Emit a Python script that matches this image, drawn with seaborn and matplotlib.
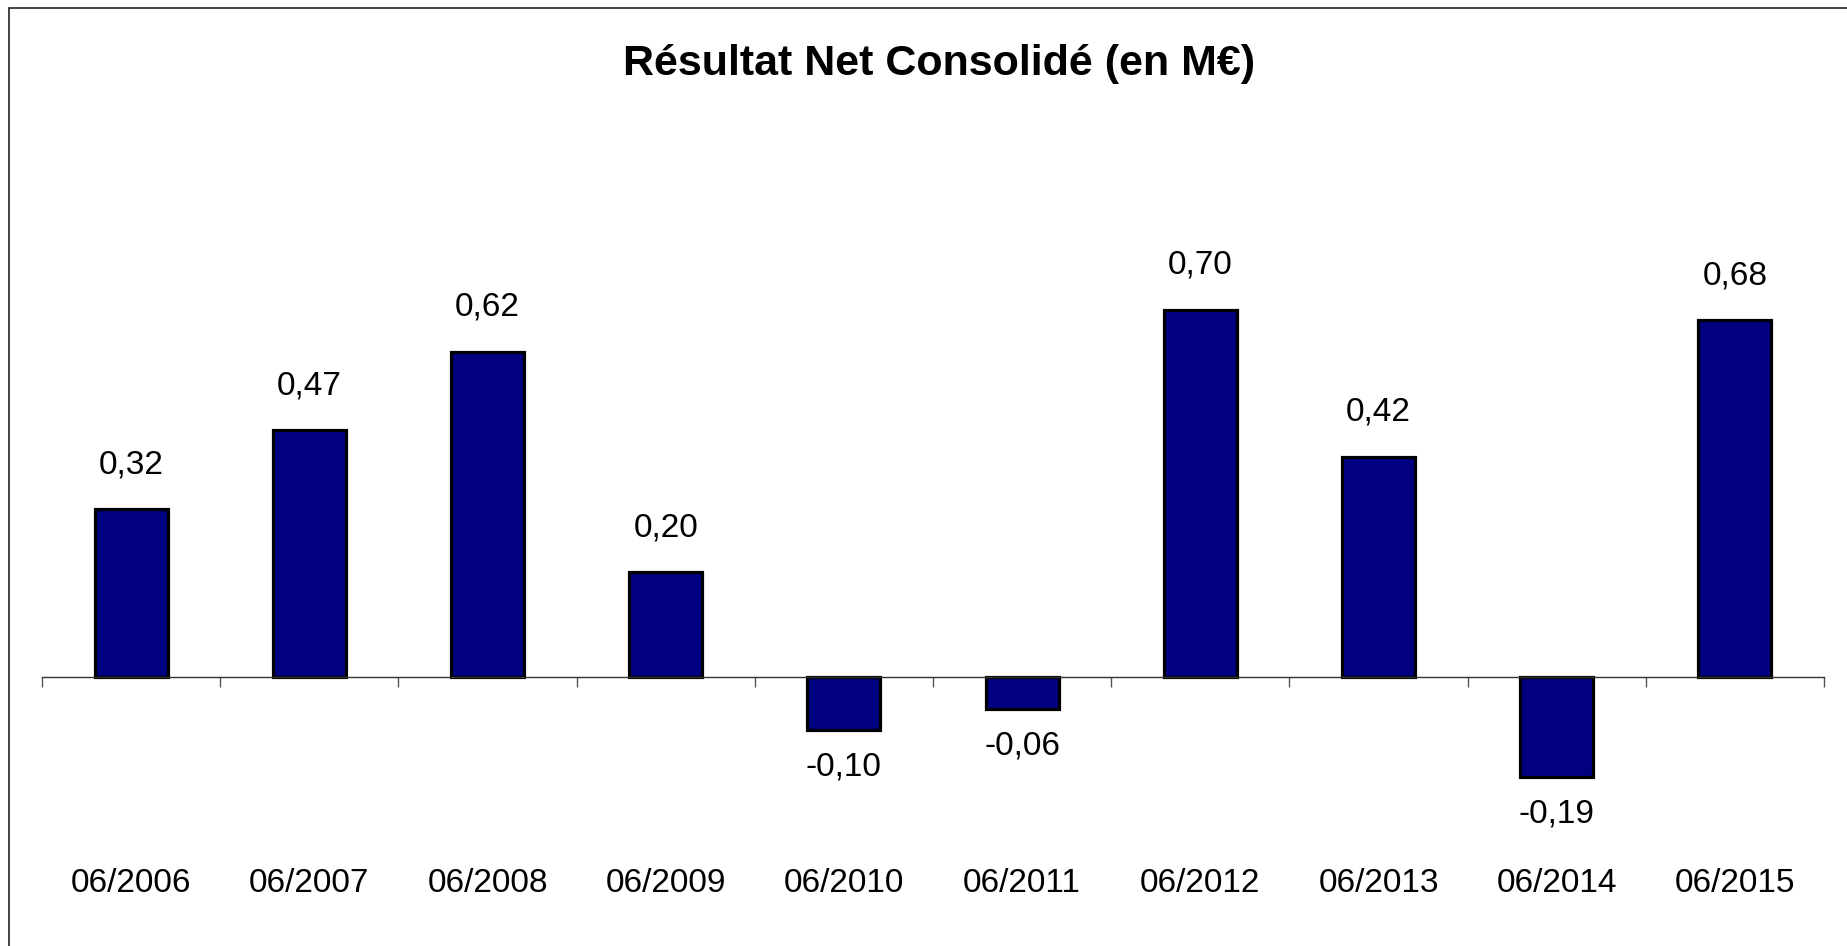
import numpy as np
import pandas as pd
import seaborn as sns
import matplotlib.pyplot as plt
from matplotlib.patches import Rectangle
from matplotlib.ticker import FixedLocator

periods = ['06/2006', '06/2007', '06/2008', '06/2009', '06/2010',
           '06/2011', '06/2012', '06/2013', '06/2014', '06/2015']
resultat = [0.32, 0.47, 0.62, 0.20, -0.10, -0.06, 0.70, 0.42, -0.19, 0.68]
labels = ['0,32', '0,47', '0,62', '0,20', '-0,10', '-0,06', '0,70', '0,42', '-0,19', '0,68']

df = pd.DataFrame({'periode': periods, 'resultat': resultat})

sns.set_style('white')
plt.rcParams['font.family'] = ['Liberation Sans', 'DejaVu Sans']
plt.rcParams['text.color'] = 'black'

fig = plt.figure(figsize=(18.47, 9.46), dpi=100)
# axes: x 42..1824 px, y 150..800 px
ax = fig.add_axes([42 / 1847, 1 - 800 / 946, 1782 / 1847, 650 / 946])

sns.barplot(data=df, x='periode', y='resultat', color='#000080', saturation=1,
            edgecolor='black', linewidth=2.3, width=0.41, ax=ax)

ax.set_xlim(-0.5, len(periods) - 0.5)
ax.set_ylim(-0.234, 1.004)

# value labels above / below the bars
for i, (v, lab) in enumerate(zip(resultat, labels)):
    off = 32 if v >= 0 else -27
    ax.annotate(lab, (i, v), xytext=(0, off), textcoords='offset points',
                ha='center', va='center', fontsize=24, color='black')

# category axis sitting at zero
for s in ['left', 'top', 'right']:
    ax.spines[s].set_visible(False)
ax.spines['bottom'].set_position(('data', 0))
ax.spines['bottom'].set_color('#333333')
ax.spines['bottom'].set_linewidth(1)
ax.set_yticks([])
ax.set_xlabel('')
ax.set_ylabel('')
ax.xaxis.set_minor_locator(FixedLocator(np.arange(-0.5, len(periods), 1)))
ax.tick_params(axis='x', which='major', length=0, pad=137.5, labelsize=24, labelcolor='black')
ax.tick_params(axis='x', which='minor', length=7, width=1, color='#555555', direction='out', bottom=True)

fig.text(939 / 1847, 1 - 75 / 946, 'Résultat Net Consolidé (en M€)',
         ha='center', va='baseline', fontsize=31, fontweight='bold', color='black')

# chart frame (only left and top edges visible)
fig.patches.append(Rectangle((9 / 1847, -0.1), 1.2, 1.1 - 8 / 946, transform=fig.transFigure,
                             fill=False, edgecolor='#222222', linewidth=1.2))

fig.savefig('out.png', dpi=100, facecolor='white')
